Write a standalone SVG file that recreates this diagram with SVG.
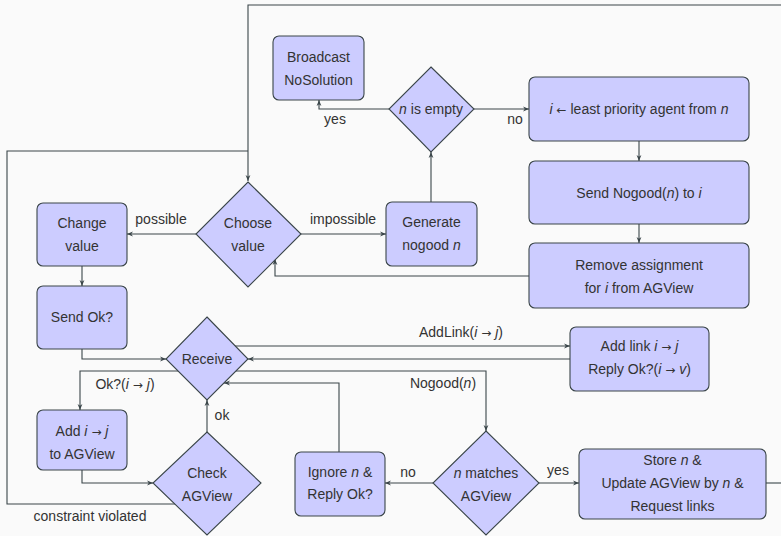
<svg xmlns="http://www.w3.org/2000/svg" width="781" height="536" viewBox="0 0 781 536">
<style>
.n{fill:#ccccff;stroke:#3a4549;stroke-width:1.1}
.c{fill:none;stroke:#3a4549;stroke-width:1.1}
text{font-family:"Liberation Sans","DejaVu Sans",sans-serif;font-size:14px;fill:#333;text-anchor:middle}
.i{font-style:italic}
.a{font-family:"DejaVu Sans",sans-serif;font-size:12px}
</style>
<defs>
<marker id="ah" viewBox="0 0 10 10" refX="10" refY="5" markerWidth="6" markerHeight="6" orient="auto" markerUnits="userSpaceOnUse">
<path d="M0,1 L10,5 L0,9 L3,5 z" fill="#3a4549"/>
</marker>
</defs>
<rect width="781" height="536" fill="#fafafa"/>
<g id="connectors">
<path class="c" d="M781,5 H248 V181" marker-end="url(#ah)"/>
<path class="c" d="M175,504 H7 V151 H248"/>
<path class="c" d="M389,109 H319 V100" marker-end="url(#ah)"/>
<path class="c" d="M474,109 H529" marker-end="url(#ah)"/>
<path class="c" d="M639,141 V161" marker-end="url(#ah)"/>
<path class="c" d="M639,224 V243" marker-end="url(#ah)"/>
<path class="c" d="M529,276 H275 V259" marker-end="url(#ah)"/>
<path class="c" d="M196,234 H127" marker-end="url(#ah)"/>
<path class="c" d="M301,234 H386" marker-end="url(#ah)"/>
<path class="c" d="M431,202 V152" marker-end="url(#ah)"/>
<path class="c" d="M82,266 V286" marker-end="url(#ah)"/>
<path class="c" d="M82,349 V359 H166" marker-end="url(#ah)"/>
<path class="c" d="M235,346 H570" marker-end="url(#ah)"/>
<path class="c" d="M570,359 H248" marker-end="url(#ah)"/>
<path class="c" d="M178,371 H80 V410" marker-end="url(#ah)"/>
<path class="c" d="M236,371 H486 V431" marker-end="url(#ah)"/>
<path class="c" d="M339,452 V383 H224" marker-end="url(#ah)"/>
<path class="c" d="M82,470 V483 H153" marker-end="url(#ah)"/>
<path class="c" d="M207,432 V400" marker-end="url(#ah)"/>
<path class="c" d="M433,483 H385" marker-end="url(#ah)"/>
<path class="c" d="M539,483 H579" marker-end="url(#ah)"/>
<path class="c" d="M766,483 H781"/>
<text x="335" y="124">yes</text>
<text x="515" y="124">no</text>
<text x="161" y="224">possible</text>
<text x="343" y="224">impossible</text>
<text x="461" y="337">AddLink(<tspan class="i">i</tspan>&#160;<tspan class="a">→</tspan>&#160;<tspan class="i">j</tspan>)</text>
<text x="125" y="389">Ok?(<tspan class="i">i</tspan>&#160;<tspan class="a">→</tspan>&#160;<tspan class="i">j</tspan>)</text>
<text x="443" y="388">Nogood(<tspan class="i">n</tspan>)</text>
<text x="222" y="420">ok</text>
<text x="90" y="521">constraint violated</text>
<text x="408" y="477">no</text>
<text x="558" y="475">yes</text>
</g>
<g id="broadcast"><rect class="n" x="273" y="36" width="91" height="64" rx="6"/><text x="318.5" y="62">Broadcast</text><text x="318.5" y="85">NoSolution</text></g>
<g id="isEmpty"><polygon class="n" points="431,67 474,109 431,152 389,109"/><text x="431" y="114"><tspan class="i">n</tspan> is empty</text></g>
<g id="least"><rect class="n" x="529" y="77" width="220" height="64" rx="6"/><text x="639" y="114"><tspan class="i">i</tspan>&#160;<tspan class="a">←</tspan>&#160;least priority agent from <tspan class="i">n</tspan></text></g>
<g id="sendNogood"><rect class="n" x="529" y="161" width="220" height="63" rx="6"/><text x="639" y="198">Send Nogood(<tspan class="i">n</tspan>) to <tspan class="i">i</tspan></text></g>
<g id="remove"><rect class="n" x="529" y="243" width="220" height="65" rx="6"/><text x="639" y="270">Remove assignment</text><text x="639" y="293">for <tspan class="i">i</tspan> from AGView</text></g>
<g id="choose"><polygon class="n" points="248,182 301,234 248,287 196,234"/><text x="248" y="228">Choose</text><text x="248" y="251">value</text></g>
<g id="change"><rect class="n" x="37" y="203" width="90" height="63" rx="6"/><text x="82" y="228">Change</text><text x="82" y="251">value</text></g>
<g id="generate"><rect class="n" x="386" y="202" width="91" height="64" rx="6"/><text x="431.5" y="227">Generate</text><text x="431.5" y="250">nogood <tspan class="i">n</tspan></text></g>
<g id="sendOk"><rect class="n" x="37" y="286" width="90" height="63" rx="6"/><text x="82" y="322">Send Ok?</text></g>
<g id="receive"><polygon class="n" points="207,317 248,359 207,400 166,359"/><text x="207" y="364">Receive</text></g>
<g id="addLink"><rect class="n" x="570" y="327" width="139" height="64" rx="6"/><text x="639.5" y="351">Add link <tspan class="i">i</tspan>&#160;<tspan class="a">→</tspan>&#160;<tspan class="i">j</tspan></text><text x="639.5" y="374">Reply Ok?(<tspan class="i">i</tspan>&#160;<tspan class="a">→</tspan>&#160;<tspan class="i">v</tspan>)</text></g>
<g id="addIJ"><rect class="n" x="37" y="410" width="90" height="60" rx="6"/><text x="82" y="436">Add <tspan class="i">i</tspan>&#160;<tspan class="a">→</tspan>&#160;<tspan class="i">j</tspan></text><text x="82" y="459">to AGView</text></g>
<g id="check"><polygon class="n" points="207,432 261,483 207,535 153,483"/><text x="207" y="478">Check</text><text x="207" y="501">AGView</text></g>
<g id="ignore"><rect class="n" x="295" y="452" width="90" height="64" rx="6"/><text x="340" y="477">Ignore <tspan class="i">n</tspan> &amp;</text><text x="340" y="499">Reply Ok?</text></g>
<g id="matches"><polygon class="n" points="486,431 539,483 486,535 433,483"/><text x="486" y="478"><tspan class="i">n</tspan> matches</text><text x="486" y="501">AGView</text></g>
<g id="store"><rect class="n" x="579" y="449" width="187" height="70" rx="6"/><text x="672.5" y="465">Store <tspan class="i">n</tspan> &amp;</text><text x="672.5" y="488">Update AGView by <tspan class="i">n</tspan> &amp;</text><text x="672.5" y="511">Request links</text></g>
</svg>
